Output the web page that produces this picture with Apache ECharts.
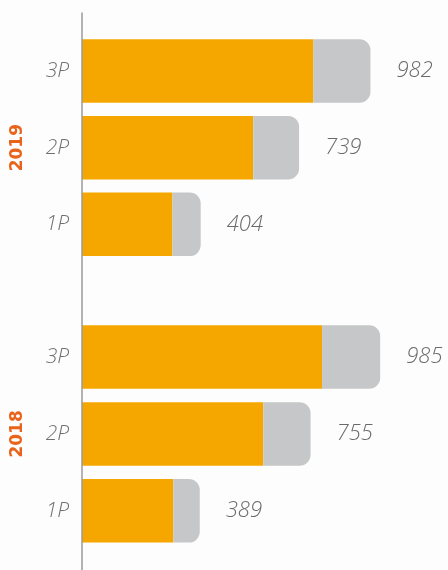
<!DOCTYPE html>
<html>
<head>
<meta charset="utf-8">
<script src="https://cdn.jsdelivr.net/npm/echarts@6/dist/echarts.min.js"></script>
<style>
html,body{margin:0;padding:0;background:#fdfdfd;}
#c{width:448px;height:570px;}
</style>
</head>
<body>
<div id="c"></div>
<script>
// Data
const categories = ['1P', '2P', '3P'];
const years = ['2019', '2018'];
const totals2019 = [404, 739, 982];
const orange2019 = [308, 583, 788];
const totals2018 = [389, 755, 985];
const orange2018 = [302, 599, 793];

const grey2019 = totals2019.map((t, i) => t - orange2019[i]);
const grey2018 = totals2018.map((t, i) => t - orange2018[i]);

const ORANGE = '#F5A700';
const GREY = '#C5C7C8';
const YEAR_COLOR = '#E8641B';
const labelFont = "'Open Sans', sans-serif";

const chart = echarts.init(document.getElementById('c'), null, {renderer: 'canvas'});

function yAx(gi, name) {
  return {
    type: 'category', gridIndex: gi, data: categories,
    axisLine: {show: false}, axisTick: {show: false}, splitLine: {show: false},
    axisLabel: {margin: 13, color: '#707070', fontSize: 21, fontStyle: 'italic', fontWeight: 300, fontFamily: labelFont},
    name: name, nameLocation: 'middle', nameRotate: 90, nameGap: 56,
    nameTextStyle: {color: YEAR_COLOR, fontSize: 17, fontWeight: 'bold', fontFamily: "'DejaVu Sans', sans-serif"}
  };
}
function xAx(gi, max) {
  return {type: 'value', gridIndex: gi, min: 0, max: max, show: false, splitLine: {show: false}};
}
function series(gi, orange, grey, totals) {
  return [
    {type: 'bar', xAxisIndex: gi, yAxisIndex: gi, stack: 's' + gi, data: orange, barWidth: 63.5,
     itemStyle: {color: ORANGE}, silent: true},
    {type: 'bar', xAxisIndex: gi, yAxisIndex: gi, stack: 's' + gi, data: grey, barWidth: 63.5,
     itemStyle: {color: GREY, borderRadius: [0, 11, 11, 0]}, silent: true,
     label: {show: true, position: 'right', distance: 26, color: '#6a6a6a', fontSize: 22,
       fontStyle: 'italic', fontWeight: 300, fontFamily: labelFont,
       formatter: p => String(totals[p.dataIndex])}}
  ];
}

chart.setOption({
  animation: false,
  backgroundColor: '#fdfdfd',
  grid: [
    {left: 82, width: 366, top: 32.6, height: 230.1},
    {left: 82, width: 366, top: 318.6, height: 230.7}
  ],
  xAxis: [xAx(0, 1246), xAx(1, 1209)],
  yAxis: [yAx(0, years[0]), yAx(1, years[1])],
  graphic: [{
    type: 'line', shape: {x1: 82, y1: 12.5, x2: 82, y2: 570},
    style: {stroke: '#9a9a9a', lineWidth: 1.5}, z: 10, silent: true
  }],
  series: [].concat(series(0, orange2019, grey2019, totals2019), series(1, orange2018, grey2018, totals2018))
});
</script>
</body>
</html>
